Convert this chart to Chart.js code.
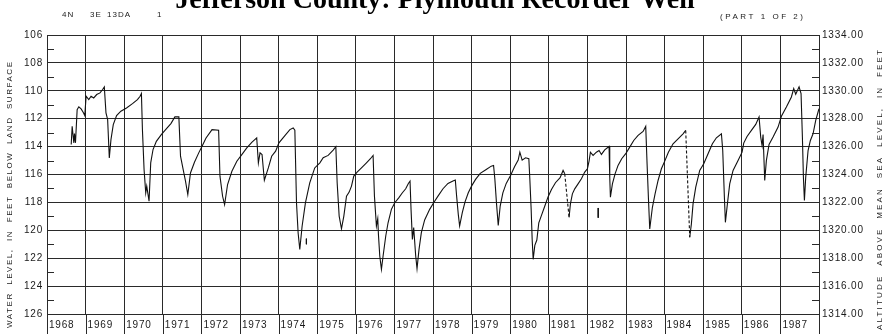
<!DOCTYPE html>
<html lang="en">
<head>
<meta charset="UTF-8">
<title>Jefferson County: Plymouth Recorder Well</title>
<style>
  html, body { margin: 0; padding: 0; background: #fff; }
</style>
</head>
<body>
<canvas id="wellChart" width="888" height="334"></canvas>
<script src="https://cdn.jsdelivr.net/npm/chart.js"></script>
<script>
// readings taken off the hydrograph (decimal year, feet below land surface)
const obsYear = [
  1968.627, 1968.652, 1968.695, 1968.712, 1968.738, 1968.781, 1968.824, 1968.884, 1968.944, 1968.979,
  1969.013, 1969.082, 1969.142, 1969.210, 1969.288, 1969.373, 1969.442, 1969.485, 1969.528, 1969.571,
  1969.614, 1969.657, 1969.717, 1969.803, 1969.914, 1970.060, 1970.215, 1970.343, 1970.412, 1970.446,
  1970.472, 1970.515, 1970.558, 1970.584, 1970.644, 1970.687, 1970.747, 1970.833, 1970.961, 1971.090,
  1971.210, 1971.313, 1971.416, 1971.459, 1971.545, 1971.588, 1971.648, 1971.717, 1971.820, 1971.931,
  1972.017, 1972.120, 1972.275, 1972.446, 1972.481, 1972.549, 1972.601, 1972.678, 1972.790, 1972.918,
  1973.047, 1973.176, 1973.305, 1973.433, 1973.476, 1973.519, 1973.571, 1973.631, 1973.734, 1973.820,
  1973.923, 1974.009, 1974.163, 1974.292, 1974.378, 1974.421, 1974.464, 1974.506, 1974.549, 1974.609,
  1974.695, 1974.807, 1974.936, 1975.069, 1975.155, 1975.284, 1975.414, 1975.483, 1975.517, 1975.569,
  1975.629, 1975.690, 1975.759, 1975.828, 1975.888, 1975.948, 1976.034, 1976.147, 1976.276, 1976.379,
  1976.448, 1976.483, 1976.534, 1976.569, 1976.586, 1976.621, 1976.664, 1976.707, 1976.776, 1976.836,
  1976.922, 1977.009, 1977.112, 1977.207, 1977.293, 1977.362, 1977.405, 1977.431, 1977.466, 1977.500,
  1977.552, 1977.586, 1977.638, 1977.698, 1977.784, 1977.914, 1978.017, 1978.129, 1978.259, 1978.388,
  1978.517, 1978.578, 1978.612, 1978.655, 1978.690, 1978.759, 1978.828, 1978.914, 1979.009, 1979.103,
  1979.224, 1979.379, 1979.509, 1979.569, 1979.603, 1979.647, 1979.690, 1979.741, 1979.810, 1979.897,
  1980.009, 1980.112, 1980.207, 1980.250, 1980.310, 1980.397, 1980.483, 1980.509, 1980.543, 1980.569,
  1980.595, 1980.638, 1980.690, 1980.741, 1980.810, 1980.897, 1980.983, 1981.069, 1981.172, 1981.293,
  1981.370, 1981.413, 1981.525, 1981.560, 1981.611, 1981.672, 1981.758, 1981.845, 1981.931, 1982.000,
  1982.043, 1982.078, 1982.147, 1982.233, 1982.302, 1982.363, 1982.449, 1982.561, 1982.579, 1982.596,
  1982.648, 1982.717, 1982.794, 1982.889, 1982.993, 1983.097, 1983.200, 1983.313, 1983.442, 1983.511,
  1983.546, 1983.580, 1983.615, 1983.684, 1983.753, 1983.831, 1983.917, 1984.012, 1984.098, 1984.219,
  1984.349, 1984.478, 1984.547, 1984.651, 1984.694, 1984.737, 1984.807, 1984.910, 1985.014, 1985.126,
  1985.238, 1985.342, 1985.472, 1985.506, 1985.549, 1985.575, 1985.627, 1985.687, 1985.774, 1985.903,
  1986.007, 1986.050, 1986.136, 1986.249, 1986.361, 1986.447, 1986.490, 1986.525, 1986.551, 1986.594,
  1986.637, 1986.706, 1986.810, 1986.940, 1987.026, 1987.155, 1987.285, 1987.345, 1987.397, 1987.484,
  1987.535, 1987.570, 1987.596, 1987.622, 1987.656, 1987.717, 1987.777, 1987.846, 1987.915, 1987.976,
  1988.000
];
const obsDepth = [
  113.85, 112.54, 113.73, 113.07, 113.73, 111.35, 111.15, 111.30, 111.58, 111.78,
  110.39, 110.63, 110.39, 110.51, 110.27, 110.15, 109.91, 109.72, 111.58, 112.06,
  114.81, 113.50, 112.42, 111.78, 111.46, 111.23, 110.92, 110.63, 110.39, 110.20,
  112.78, 115.65, 117.32, 116.84, 117.92, 115.17, 114.21, 113.62, 113.14, 112.73,
  112.35, 111.87, 111.87, 114.69, 115.89, 116.48, 117.44, 115.89, 115.12, 114.45,
  113.97, 113.38, 112.78, 112.83, 116.12, 117.56, 118.16, 116.72, 115.77, 115.05,
  114.57, 114.09, 113.69, 113.38, 115.17, 114.45, 114.57, 116.41, 115.53, 114.69,
  114.33, 113.73, 113.21, 112.78, 112.66, 112.83, 118.04, 120.19, 121.38, 119.71,
  118.04, 116.60, 115.53, 115.16, 114.80, 114.63, 114.25, 114.01, 116.59, 118.98,
  119.89, 118.98, 117.55, 117.26, 116.83, 116.11, 115.83, 115.52, 115.16, 114.87,
  114.63, 117.55, 119.69, 119.17, 120.29, 121.84, 122.80, 121.84, 120.41, 119.46,
  118.50, 118.02, 117.67, 117.31, 117.02, 116.64, 116.47, 118.50, 120.65, 119.81,
  121.84, 122.75, 121.37, 120.17, 119.26, 118.50, 118.02, 117.55, 117.02, 116.64,
  116.47, 116.40, 117.55, 118.86, 119.69, 118.74, 117.98, 117.31, 116.78, 116.35,
  115.92, 115.64, 115.40, 115.35, 116.35, 118.14, 119.65, 118.26, 117.31, 116.64,
  116.07, 115.45, 114.97, 114.40, 114.97, 114.80, 114.87, 116.35, 118.50, 120.65,
  122.08, 121.08, 120.70, 119.46, 118.93, 118.26, 117.59, 117.07, 116.59, 116.23,
  115.71, 115.95, 119.07, 118.11, 117.39, 117.03, 116.67, 116.31, 115.83, 115.59,
  115.04, 114.40, 114.63, 114.40, 114.28, 114.56, 114.23, 113.99, 116.19, 117.63,
  116.67, 115.95, 115.35, 114.87, 114.51, 114.04, 113.56, 113.20, 112.91, 112.55,
  115.23, 117.63, 119.90, 118.35, 117.39, 116.43, 115.59, 114.99, 114.40, 113.80,
  113.44, 113.08, 112.84, 120.50, 119.54, 118.11, 116.91, 115.71, 115.23, 114.51,
  113.80, 113.37, 113.08, 114.28, 117.63, 119.43, 118.11, 116.67, 115.71, 114.99,
  114.40, 113.75, 113.27, 112.84, 112.41, 111.88, 113.32, 113.92, 113.13, 116.43,
  114.99, 113.84, 113.32, 112.60, 111.83, 111.16, 110.44, 109.84, 110.25, 109.72,
  110.20, 113.32, 116.19, 117.87, 116.19, 114.28, 113.56, 113.08, 112.12, 111.52,
  111.28
];
// segments drawn dashed (record missing), keyed by their start year
const dashedFrom = [1981.413, 1984.547];
// single isolated readings drawn as short ticks
const markYear = [1974.72, 1982.28];
const markTop = [120.6, 118.4];
const markBottom = [121.0, 119.1];

const yearLabels = ['1968','1969','1970','1971','1972','1973','1974','1975','1976','1977',
                    '1978','1979','1980','1981','1982','1983','1984','1985','1986','1987'];
const depthLabels = ['106','108','110','112','114','116','118','120','122','124','126'];
const altitudeLabels = ['1314.00','1316.00','1318.00','1320.00','1322.00','1324.00',
                        '1326.00','1328.00','1330.00','1332.00','1334.00'];
const minorDepths = [107, 109, 111, 113, 115, 117, 119, 121, 123, 125];

const ink = '#1a1a1a';
const gridInk = '#2a2a2a';
const tickFont = { family: '"Liberation Sans", Arial, sans-serif', size: 10 };

const marks = [];
markYear.forEach((yr, i) => {
  if (i > 0) marks.push({ x: yr, y: null });
  marks.push({ x: yr, y: markTop[i] }, { x: yr, y: markBottom[i] });
});

function spacedText(ctx, text, x, y, width, align) {
  ctx.letterSpacing = '0px';
  const w = ctx.measureText(text).width;
  const gap = Math.max(0, (width - w) / (text.length - 1));
  ctx.letterSpacing = gap + 'px';
  ctx.textAlign = align || 'left';
  ctx.fillText(text, x, y);
}

const decorations = {
  id: 'decorations',
  beforeDraw(chart) {
    chart.ctx.letterSpacing = '0.8px';
  },
  afterDraw(chart) {
    const { ctx, chartArea: a, scales } = chart;
    ctx.save();
    ctx.strokeStyle = gridInk;
    ctx.lineWidth = 1;
    // minor ticks, both sides
    ctx.beginPath();
    minorDepths.forEach(v => {
      const y = Math.round(scales.y.getPixelForValue(v)) + 0.5;
      ctx.moveTo(a.left, y); ctx.lineTo(a.left + 7, y);
      ctx.moveTo(a.right - 7, y); ctx.lineTo(a.right, y);
    });
    // separators of the year boxes below the plot
    for (let i = 0; i <= yearLabels.length; i++) {
      const x = Math.round(scales.x.getPixelForValue(+yearLabels[0] + i)) + 0.5;
      ctx.moveTo(x, a.bottom); ctx.lineTo(x, chart.height);
    }
    ctx.stroke();

    ctx.fillStyle = '#000';
    ctx.textBaseline = 'alphabetic';
    ctx.letterSpacing = '0px';
    ctx.font = 'bold 28px "Liberation Serif", "Times New Roman", serif';
    ctx.textAlign = 'center';
    ctx.fillText('Jefferson County: Plymouth Recorder Well', 435, 8);

    ctx.fillStyle = ink;
    ctx.font = '8px "Liberation Sans", Arial, sans-serif';
    ctx.letterSpacing = '1px';
    ctx.textAlign = 'left';
    ctx.fillText('4N', 62, 17);
    ctx.fillText('3E', 90, 17);
    ctx.fillText('13DA', 107, 17);
    ctx.fillText('1', 157, 17);
    spacedText(ctx, '(PART 1 OF 2)', 720, 19, 83, 'left');

    ctx.font = '8px "Liberation Sans", Arial, sans-serif';
    ctx.save();
    ctx.translate(12, 195);
    ctx.rotate(-Math.PI / 2);
    spacedText(ctx, 'WATER  LEVEL,  IN  FEET  BELOW  LAND  SURFACE', -133, 0, 266, 'left');
    ctx.restore();
    ctx.save();
    ctx.translate(882, 190);
    ctx.rotate(-Math.PI / 2);
    spacedText(ctx, 'ALTITUDE  ABOVE  MEAN  SEA  LEVEL,  IN  FEET', -140, 0, 280, 'left');
    ctx.restore();
    ctx.restore();
  }
};

new Chart(document.getElementById('wellChart'), {
  type: 'line',
  data: {
    datasets: [{
      data: obsYear.map((yr, i) => ({ x: yr, y: obsDepth[i] })),
      borderColor: '#111',
      borderWidth: 1.1,
      pointRadius: 0,
      tension: 0,
      segment: {
        borderDash: c => dashedFrom.includes(c.p0.parsed.x) ? [3, 2] : undefined
      }
    }, {
      data: marks,
      borderColor: '#111',
      borderWidth: 1,
      pointRadius: 0,
      spanGaps: false
    }]
  },
  options: {
    responsive: false,
    animation: false,
    events: [],
    layout: { padding: { top: 35 } },
    plugins: { legend: { display: false }, tooltip: { enabled: false } },
    scales: {
      x: {
        type: 'linear', min: 1968, max: 1988,
        grid: { color: gridInk, drawTicks: false },
        border: { color: gridInk },
        ticks: {
          stepSize: 1, autoSkip: false, maxRotation: 0, align: 'start',
          labelOffset: 2, padding: 5, color: ink, font: tickFont,
          callback: v => yearLabels.find(l => +l === v) || ''
        },
        afterFit: s => { s.height = 20; }
      },
      y: {
        min: 106, max: 126, reverse: true, position: 'left',
        grid: { color: gridInk, drawTicks: false },
        border: { color: gridInk },
        ticks: { stepSize: 2, padding: 4, color: ink, font: tickFont,
                 callback: v => depthLabels.find(l => +l === v) || '' },
        afterFit: s => { s.width = 47; }
      },
      y2: {
        min: 1314, max: 1334, position: 'right',
        grid: { drawOnChartArea: false, drawTicks: false },
        border: { color: gridInk },
        ticks: { stepSize: 2, padding: 3, color: ink, font: tickFont,
                 callback: v => altitudeLabels.find(l => +l === v) || '' },
        afterFit: s => { s.width = 69; }
      }
    }
  },
  plugins: [decorations]
});
</script>
</body>
</html>
